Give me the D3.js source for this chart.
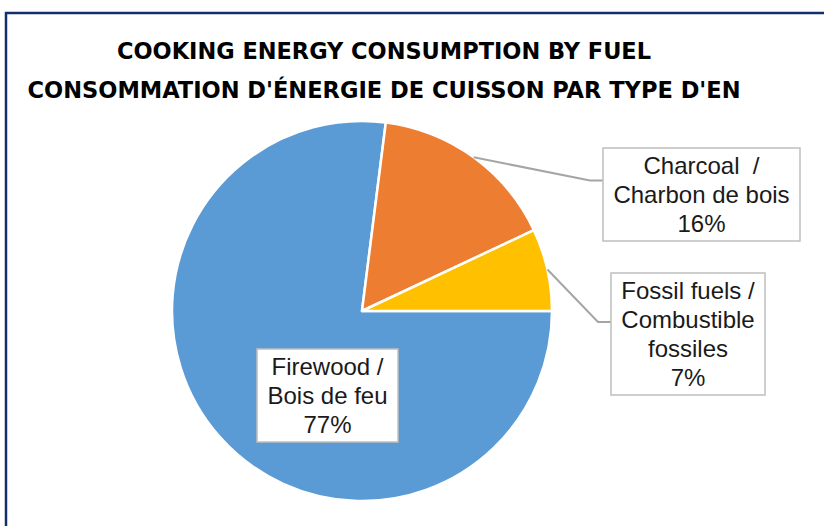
<!DOCTYPE html>
<html>
<head>
<meta charset="utf-8">
<script src="https://cdn.jsdelivr.net/npm/d3@7"></script>
<style>
  html, body { margin: 0; padding: 0; background: #fff; }
  svg { display: block; }
</style>
</head>
<body>
<svg id="pieChart"></svg>
<script>
// chart data
const categories = ["Firewood", "Charcoal", "Fossil fuels"];
const values = [77, 16, 7];
const labelLines = [
    ["Firewood /", "Bois de feu"],
    ["Charcoal  /", "Charbon de bois"],
    ["Fossil fuels /", "Combustible", "fossiles"]
];
const titleLines = [
    "COOKING ENERGY CONSUMPTION BY FUEL",
    "CONSOMMATION D'ÉNERGIE DE CUISSON PAR TYPE D'EN"
];

const width = 824, height = 526;
const cx = 362, cy = 311, radius = 190;

// label boxes: left, top, width, height (layout only)
const boxes = [
    {x: 257, y: 349, w: 141, h: 93},
    {x: 603, y: 148, w: 197, h: 93},
    {x: 611, y: 273, w: 154, h: 122}
];

const colorScale = d3.scaleOrdinal()
    .domain(categories)
    .range(["#5B9BD5", "#ED7D31", "#FFC000"]);

const data = categories.map((c, i) => ({label: c, value: values[i], lines: labelLines[i]}));

const svg = d3.select("#pieChart")
    .attr("width", width)
    .attr("height", height);

// outer frame of the chart area
svg.append("rect")
    .attr("x", 6)
    .attr("y", 13)
    .attr("width", width + 20)
    .attr("height", height + 20)
    .attr("fill", "#fff")
    .attr("stroke", "#14306c")
    .attr("stroke-width", 2.5);

// title
const titleWidths = [534, 713];
svg.selectAll("text.title")
    .data(titleLines)
    .enter().append("text")
    .attr("class", "title")
    .attr("x", 384)
    .attr("y", (d, i) => 59 + i * 39)
    .attr("text-anchor", "middle")
    .attr("font-family", "'DejaVu Sans Condensed', 'Liberation Sans Narrow', sans-serif")
    .attr("font-weight", "bold")
    .attr("font-size", "23px")
    .attr("fill", "#000")
    .attr("textLength", (d, i) => titleWidths[i])
    .attr("lengthAdjust", "spacingAndGlyphs")
    .text(d => d);

const pie = d3.pie()
    .sort(null)
    .startAngle(Math.PI / 2)
    .endAngle(Math.PI / 2 + 2 * Math.PI)
    .value(d => d.value);

const arc = d3.arc()
    .outerRadius(radius)
    .innerRadius(0);

const edgeArc = d3.arc()
    .outerRadius(radius)
    .innerRadius(radius);

const total = d3.sum(values);

const g = svg.append("g")
    .attr("transform", `translate(${cx}, ${cy})`);

const arcs = g.selectAll(".arc")
    .data(pie(data))
    .enter().append("g")
    .attr("class", "arc");

arcs.append("path")
    .attr("d", arc)
    .attr("fill", d => colorScale(d.data.label))
    .attr("stroke", "#fff")
    .attr("stroke-width", 2.5)
    .attr("stroke-linejoin", "round");

// leader lines for the labels placed outside the pie
const pies = pie(data);
pies.forEach((d, i) => {
    if (i === 0) return;
    const b = boxes[i];
    const p = edgeArc.centroid(d);
    const sx = cx + p[0], sy = cy + p[1];
    const ey = b.y + b.h / 2 + (i === 2 ? -12 : -14);
    svg.append("polyline")
        .attr("points", `${sx},${sy} ${b.x - 13},${ey} ${b.x},${ey}`)
        .attr("fill", "none")
        .attr("stroke", "#a5a5a5")
        .attr("stroke-width", 2);
});

// label boxes
const labels = svg.selectAll("g.label")
    .data(pies)
    .enter().append("g")
    .attr("class", "label");

labels.append("rect")
    .attr("x", (d, i) => boxes[i].x)
    .attr("y", (d, i) => boxes[i].y)
    .attr("width", (d, i) => boxes[i].w)
    .attr("height", (d, i) => boxes[i].h)
    .attr("fill", "#fff")
    .attr("stroke", "#bfbfbf")
    .attr("stroke-width", 1.5);

labels.each(function (d, i) {
    const b = boxes[i];
    const lines = d.data.lines.concat([`${Math.round(d.data.value / total * 100)}%`]);
    const lh = 29;
    const top = b.y + b.h / 2 - (lines.length * lh) / 2;
    d3.select(this).selectAll("text")
        .data(lines)
        .enter().append("text")
        .attr("x", b.x + b.w / 2)
        .attr("y", (t, j) => top + j * lh + 23)
        .attr("text-anchor", "middle")
        .attr("font-family", "'Liberation Sans', Arial, sans-serif")
        .attr("font-size", "24px")
        .attr("fill", "#1a1a1a")
        .style("white-space", "pre")
        .text(t => t);
});
</script>
</body>
</html>
